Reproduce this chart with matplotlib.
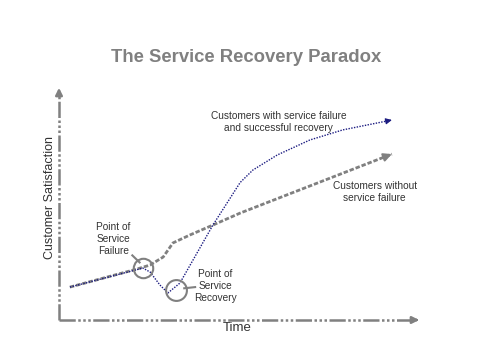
import matplotlib
matplotlib.use("Agg")
import matplotlib.pyplot as plt

plt.rcParams['font.family'] = ['Liberation Sans', 'DejaVu Sans']

# time / satisfaction, arbitrary units 0..10
no_fail_t = [0.30, 2.15, 2.51, 2.87, 3.14, 3.61, 4.24, 4.99, 9.17]
no_fail_s = [1.40, 2.17, 2.34, 2.68, 3.28, 3.62, 4.04, 4.55, 7.06]

recov_t = [0.30, 2.31, 2.51, 2.78, 3.00, 3.33, 4.24, 4.99, 5.34, 6.01, 6.91, 7.82, 9.17]
recov_s = [1.40, 2.21, 2.04, 1.49, 1.15, 1.57, 4.04, 5.85, 6.38, 7.02, 7.66, 8.09, 8.51]

fail_pt = (2.31, 2.21)
recov_pt = (3.22, 1.28)

title = "The Service Recovery Paradox"
grey = "#808080"
navy = "#1a1a80"
txt = "#333333"


def arrow_tip(t, s, color, lw, size):
    # short solid segment in the direction of the last leg, just for the head
    dt, ds = t[-1] - t[-2], s[-1] - s[-2]
    k = 0.06
    ax.annotate("", xy=(t[-1], s[-1]), xytext=(t[-1] - k * dt, s[-1] - k * ds),
                arrowprops=dict(arrowstyle="-|>", color=color, lw=lw,
                                mutation_scale=size, shrinkA=0, shrinkB=0))


fig = plt.figure(figsize=(4.8, 3.6), dpi=100)
ax = fig.add_axes([59 / 480, 40 / 360, 363 / 480, 235 / 360])
ax.set_xlim(0, 10)
ax.set_ylim(0, 10)
ax.axis("off")

# axes drawn as arrows
axis_ls = (0, (6.5, 1, 1, 1, 1, 1, 1, 1))
ax.plot([0, 9.8], [0, 0], color=grey, lw=1.8, ls=axis_ls, clip_on=False)
ax.plot([0, 0], [0, 9.6], color=grey, lw=1.8, ls=axis_ls, clip_on=False)
ax.annotate("", xy=(10, 0), xytext=(9.7, 0),
            arrowprops=dict(arrowstyle="-|>", color=grey, lw=1.8, mutation_scale=10),
            annotation_clip=False)
ax.annotate("", xy=(0, 10), xytext=(0, 9.5),
            arrowprops=dict(arrowstyle="-|>", color=grey, lw=1.8, mutation_scale=10),
            annotation_clip=False)

# curves
ax.plot(no_fail_t, no_fail_s, color=grey, lw=2, ls=(0, (1.6, 0.7)))
arrow_tip(no_fail_t, no_fail_s, grey, 1.5, 12)
ax.plot(recov_t, recov_s, color=navy, lw=1, ls=(0, (1, 1)))
arrow_tip(recov_t, recov_s, navy, 0.8, 9)

# marked points
ax.plot(*fail_pt, marker="o", ms=14, mfc="none", mec=grey, mew=1.5)
ax.plot(*recov_pt, marker="o", ms=15, mfc="none", mec=grey, mew=1.5)
ax.plot([2.02, 2.22], [2.75, 2.45], color=grey, lw=1.5)
ax.plot([3.45, 3.75], [1.35, 1.4], color=grey, lw=1.5)

fs = 7.3
ax.text(1.5, 2.72, "Point of\nService\nFailure", ha="center", va="bottom",
        fontsize=fs, color=txt, linespacing=1.25)
ax.text(4.3, 0.72, "Point of\nService\nRecovery", ha="center", va="bottom",
        fontsize=fs, color=txt, linespacing=1.25)
ax.text(6.05, 7.95, "Customers with service failure\nand successful recovery",
        ha="center", va="bottom", fontsize=fs, color=txt, linespacing=1.25)
ax.text(8.7, 4.98, "Customers without\nservice failure",
        ha="center", va="bottom", fontsize=fs, color=txt, linespacing=1.25)

ax.text(-0.25, 5.2, "Customer Satisfaction", rotation=90, ha="center", va="center",
        fontsize=9, color=txt)
ax.text(4.9, -0.35, "Time", ha="center", va="center", fontsize=9.5, color=txt)

fig.text(246 / 480, 1 - 57 / 360, title, ha="center", va="center",
         fontsize=13.3, fontweight="bold", color=grey)

fig.savefig("out.png", dpi=100, facecolor="white")
